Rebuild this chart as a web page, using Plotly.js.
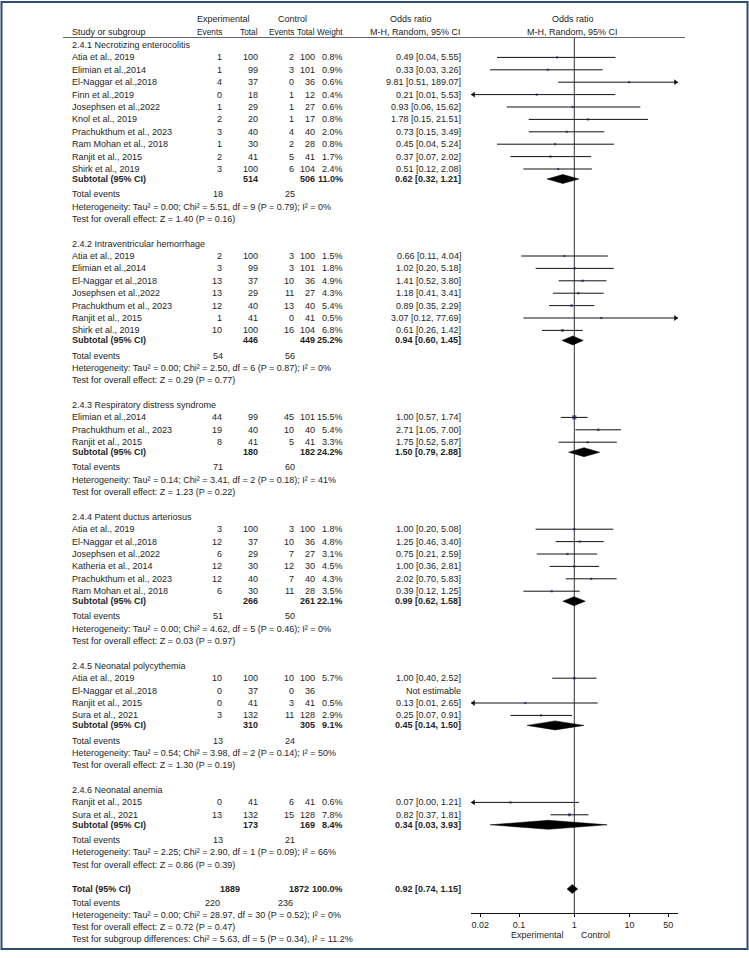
<!DOCTYPE html>
<html><head><meta charset="utf-8">
<script src="https://cdn.plot.ly/plotly-3.0.1.min.js"></script>
<style>html,body{margin:0;padding:0;background:#fff}#chart{width:749px;height:958px}</style>
</head><body><div id="chart"></div>
<script>
// ---------------- DATA ----------------
const subgroupNames = ['2.4.1 Necrotizing enterocolitis','2.4.2 Intraventricular hemorrhage','2.4.3 Respiratory distress syndrome','2.4.4 Patent ductus arteriosus','2.4.5 Neonatal polycythemia','2.4.6 Neonatal anemia'];
const studyGroup = [0,0,0,0,0,0,0,0,0,0, 1,1,1,1,1,1,1, 2,2,2, 3,3,3,3,3,3, 4,4,4,4, 5,5];
const studyNames = [
 'Atia et al., 2019','Elimian et al.,2014','El-Naggar et al.,2018','Finn et al.,2019','Josephsen et al.,2022','Knol et al., 2019','Prachukthum et al., 2023','Ram Mohan et al., 2018','Ranjit et al., 2015','Shirk et al., 2019',
 'Atia et al., 2019','Elimian et al.,2014','El-Naggar et al.,2018','Josephsen et al.,2022','Prachukthum et al., 2023','Ranjit et al., 2015','Shirk et al., 2019',
 'Elimian et al.,2014','Prachukthum et al., 2023','Ranjit et al., 2015',
 'Atia et al., 2019','El-Naggar et al.,2018','Josephsen et al.,2022','Katheria et al., 2014','Prachukthum et al., 2023','Ram Mohan et al., 2018',
 'Atia et al., 2019','El-Naggar et al.,2018','Ranjit et al., 2015','Sura et al., 2021',
 'Ranjit et al., 2015','Sura et al., 2021'];
const expEvents  = [1,1,4,0,1,2,3,1,2,3, 2,3,13,13,12,1,10, 44,19,8, 3,12,6,12,12,6, 10,0,0,3, 0,13];
const expTotal   = [100,99,37,18,29,20,40,30,41,100, 100,99,37,29,40,41,100, 99,40,41, 100,37,29,30,40,30, 100,37,41,132, 41,132];
const ctrlEvents = [2,3,0,1,1,1,4,2,5,6, 3,3,10,11,13,0,16, 45,10,5, 3,10,7,12,7,11, 10,0,3,11, 6,15];
const ctrlTotal  = [100,101,36,12,27,17,40,28,41,104, 100,101,36,27,40,41,104, 101,40,41, 100,36,27,30,40,28, 100,36,41,128, 41,128];
const studyWeight = [0.8,0.9,0.6,0.4,0.6,0.8,2.0,0.8,1.7,2.4, 1.5,1.8,4.9,4.3,5.4,0.5,6.8, 15.5,5.4,3.3, 1.8,4.8,3.1,4.5,4.3,3.5, 5.7,null,0.5,2.9, 0.6,7.8];
const studyOR   = [0.49,0.33,9.81,0.21,0.93,1.78,0.73,0.45,0.37,0.51, 0.66,1.02,1.41,1.18,0.89,3.07,0.61, 1.00,2.71,1.75, 1.00,1.25,0.75,1.00,2.02,0.39, 1.00,null,0.13,0.25, 0.07,0.82];
const studyLow  = [0.04,0.03,0.51,0.01,0.06,0.15,0.15,0.04,0.07,0.12, 0.11,0.20,0.52,0.41,0.35,0.12,0.26, 0.57,1.05,0.52, 0.20,0.46,0.21,0.36,0.70,0.12, 0.40,null,0.01,0.07, 0.00,0.37];
const studyHigh = [5.55,3.26,189.07,5.53,15.62,21.51,3.49,5.24,2.02,2.08, 4.04,5.18,3.80,3.41,2.29,77.69,1.42, 1.74,7.00,5.87, 5.08,3.40,2.59,2.81,5.83,1.25, 2.52,null,2.65,0.91, 1.21,1.81];

const subExpEvents  = [18,54,71,51,13,13];
const subCtrlEvents = [25,56,60,50,24,21];
const subExpTotal   = [514,446,180,266,310,173];
const subCtrlTotal  = [506,449,182,261,305,169];
const subWeight = [11.0,25.2,24.2,22.1,9.1,8.4];
const subOR   = [0.62,0.94,1.50,0.99,0.45,0.34];
const subLow  = [0.32,0.60,0.79,0.62,0.14,0.03];
const subHigh = [1.21,1.45,2.88,1.58,1.50,3.93];
const subTau2 = [0.00,0.00,0.14,0.00,0.54,2.25];
const subChi2 = [5.51,2.50,3.41,4.62,3.98,2.90];
const subDf   = [9,6,2,5,2,1];
const subHetP = [0.79,0.87,0.18,0.46,0.14,0.09];
const subI2   = [0,0,41,0,50,66];
const subZ    = [1.40,0.29,1.23,0.03,1.30,0.86];
const subZP   = [0.16,0.77,0.22,0.97,0.19,0.39];

const totalValues = [1889,1872,100.0,0.92,0.74,1.15]; // expTotal, ctrlTotal, weight, OR, low, high
const totalEvents = [220,236];
const totalHet = [0.00,28.97,30,0.52,0]; // tau2, chi2, df, P, I2
const totalZ = [0.72,0.47];
const subgroupDiff = [5.63,5,0.34,11.2]; // chi2, df, P, I2
const axisTicks = [0.02,0.1,1,10,50];
const tickLabels = ['0.02','0.1','1','10','50'];

// ---------------- LAYOUT ----------------
const W=749, H=958;
const FONT='"Liberation Sans", Arial, sans-serif';
const TC='#1e1e1e';
const PLOT_L=471, PLOT_R=678, AXIS_Y=913;
const XMIN_LOG=-1.868, XMAX_LOG=1.875;
const PX_PER_DEC=(PLOT_R-PLOT_L)/(XMAX_LOG-XMIN_LOG);
const COL={name:72, eE:222, eT:258, cE:294, cT:315, w:343, or:461};
const ann=[];
function txt(s,px,py,anchor,bold,size){
  ann.push({xref:'paper',yref:'paper',x:px/W,y:1-py/H,xanchor:anchor,yanchor:'middle',
    text:bold?'<b>'+s+'</b>':s,showarrow:false,borderpad:0,borderwidth:0,
    font:{family:FONT,size:size||9,color:TC}});
}
const f2=v=>v.toFixed(2);
const orText=(o,l,h)=>f2(o)+' ['+f2(l)+', '+f2(h)+']';
const hetText=(t,c,d,p,i)=>'Heterogeneity: Tau² = '+f2(t)+'; Chi² = '+f2(c)+', df = '+d+' (P = '+f2(p)+'); I² = '+i+'%';
const zText=(z,p)=>'Test for overall effect: Z = '+f2(z)+' (P = '+f2(p)+')';

// headers
const HS=8.3;
txt('Experimental',223,19,'center');
txt('Control',292,19,'center');
txt('Odds ratio',411,19,'center');
txt('Odds ratio',573,19,'center');
txt('Study or subgroup',COL.name,32,'left');
txt('Events',COL.eE,32,'right',false,HS);
txt('Total',COL.eT,32,'right',false,HS);
txt('Events',COL.cE,32,'right',false,HS);
txt('Total',COL.cT,32,'right',false,HS);
txt('Weight',COL.w,32,'right',false,HS);
txt('M-H, Random, 95% CI',COL.or,32,'right');
txt('M-H, Random, 95% CI',572,32,'center');

const STEP=12.4, SUB_GAP=10, TE_GAP=15.2, LINE=12.4, GROUP_GAP=24.6, DIA_H=4.5;
const lineX=[], lineY=[], sqX=[], sqY=[], sqS=[], arrL=[], arrLy=[], arrR=[], arrRy=[];
const diamonds=[];
const xmin=Math.pow(10,XMIN_LOG), xmax=Math.pow(10,XMAX_LOG);
const arrowInL=Math.pow(10,XMIN_LOG+2.5/PX_PER_DEC), arrowInR=Math.pow(10,XMAX_LOG-2.5/PX_PER_DEC);

let y=45;
let lastTest=0;
for(let g=0; g<subgroupNames.length; g++){
  txt(subgroupNames[g],COL.name,y,'left');
  let sy=y;
  studyNames.forEach((n,i)=>{
    if(studyGroup[i]!==g) return;
    sy+=STEP;
    txt(n,COL.name,sy,'left');
    txt(String(expEvents[i]),COL.eE,sy,'right');
    txt(String(expTotal[i]),COL.eT,sy,'right');
    txt(String(ctrlEvents[i]),COL.cE,sy,'right');
    txt(String(ctrlTotal[i]),COL.cT,sy,'right');
    if(studyOR[i]===null){
      txt('Not estimable',COL.or,sy,'right');
      return;
    }
    txt(studyWeight[i].toFixed(1)+'%',COL.w,sy,'right');
    txt(orText(studyOR[i],studyLow[i],studyHigh[i]),COL.or,sy,'right');
    lineX.push(Math.max(studyLow[i],xmin),Math.min(studyHigh[i],xmax),null);
    lineY.push(sy,sy,null);
    sqX.push(studyOR[i]); sqY.push(sy); sqS.push(Math.max(2.2,1.05*Math.sqrt(studyWeight[i])));
    if(studyLow[i]<xmin){arrL.push(arrowInL); arrLy.push(sy);}
    if(studyHigh[i]>xmax){arrR.push(arrowInR); arrRy.push(sy);}
  });
  const subY=sy+SUB_GAP;
  txt('Subtotal (95% CI)',COL.name,subY,'left',true);
  txt(String(subExpTotal[g]),COL.eT,subY,'right',true);
  txt(String(subCtrlTotal[g]),COL.cT,subY,'right',true);
  txt(subWeight[g].toFixed(1)+'%',COL.w,subY,'right',true);
  txt(orText(subOR[g],subLow[g],subHigh[g]),COL.or,subY,'right',true);
  diamonds.push([subOR[g],subLow[g],subHigh[g],subY]);
  const teY=subY+TE_GAP;
  txt('Total events',COL.name,teY,'left');
  txt(String(subExpEvents[g]),COL.eE+1,teY,'right');
  txt(String(subCtrlEvents[g]),COL.cE+1,teY,'right');
  txt(hetText(subTau2[g],subChi2[g],subDf[g],subHetP[g],subI2[g]),COL.name,teY+LINE,'left');
  txt(zText(subZ[g],subZP[g]),COL.name,teY+2*LINE,'left');
  lastTest=teY+2*LINE;
  y=lastTest+GROUP_GAP;
}
// overall
const totY=lastTest+24.2;
txt('Total (95% CI)',COL.name,totY,'left',true);
txt(String(totalValues[0]),240,totY,'right',true);
txt(String(totalValues[1]),309,totY,'right',true);
txt(totalValues[2].toFixed(1)+'%',COL.w,totY,'right',true);
txt(orText(totalValues[3],totalValues[4],totalValues[5]),COL.or,totY,'right',true);
diamonds.push([totalValues[3],totalValues[4],totalValues[5],totY]);
txt('Total events',COL.name,totY+14,'left');
txt(String(totalEvents[0]),220,totY+14,'right');
txt(String(totalEvents[1]),293,totY+14,'right');
txt(hetText(totalHet[0],totalHet[1],totalHet[2],totalHet[3],totalHet[4]),COL.name,totY+26,'left');
txt(zText(totalZ[0],totalZ[1]),COL.name,totY+38,'left');
txt('Test for subgroup differences: Chi² = '+f2(subgroupDiff[0])+', df = '+subgroupDiff[1]+' (P = '+f2(subgroupDiff[2])+'), I² = '+subgroupDiff[3].toFixed(1)+'%',COL.name,totY+50.3,'left');
txt('Experimental',537,935,'center');
txt('Control',595,935,'center');

// ---------------- TRACES ----------------
const traces=[];
traces.push({x:[1,1],y:[38,AXIS_Y],mode:'lines',line:{color:'#333',width:1},hoverinfo:'skip'});
traces.push({x:lineX,y:lineY,mode:'lines',line:{color:'#111',width:1},connectgaps:false,hoverinfo:'skip'});
traces.push({x:sqX,y:sqY,mode:'markers',marker:{symbol:'square',size:sqS,color:'#1b1b66',line:{width:0}},hoverinfo:'skip'});
traces.push({x:arrL,y:arrLy,mode:'markers',cliponaxis:false,marker:{symbol:'triangle-left',size:5,color:'#111'},hoverinfo:'skip'});
traces.push({x:arrR,y:arrRy,mode:'markers',cliponaxis:false,marker:{symbol:'triangle-right',size:5,color:'#111'},hoverinfo:'skip'});
diamonds.forEach(d=>{
  traces.push({x:[d[1],d[0],d[2],d[0],d[1]],y:[d[3],d[3]-DIA_H,d[3],d[3]+DIA_H,d[3]],mode:'lines',fill:'toself',
    fillcolor:'#000',line:{color:'#000',width:0.5},hoverinfo:'skip'});
});

const layout={
  width:W,height:H,margin:{l:0,r:0,t:0,b:0},paper_bgcolor:'#fff',plot_bgcolor:'rgba(0,0,0,0)',
  showlegend:false,
  xaxis:{type:'log',range:[XMIN_LOG,XMAX_LOG],domain:[PLOT_L/W,PLOT_R/W],showline:true,linecolor:'#111',linewidth:1,
    ticks:'outside',ticklen:3,tickcolor:'#111',tickvals:axisTicks,ticktext:tickLabels,showgrid:false,zeroline:false,
    tickfont:{family:FONT,size:9,color:TC},fixedrange:true},
  yaxis:{range:[AXIS_Y,0],domain:[(H-AXIS_Y)/H,1],visible:false,showgrid:false,zeroline:false,fixedrange:true},
  annotations:ann,
  shapes:[
    {type:'rect',xref:'paper',yref:'paper',x0:1.5/W,x1:747.5/W,y0:1-949/H,y1:1-2/H,line:{color:'#2d4d70',width:2}},
    {type:'line',xref:'paper',yref:'paper',x0:63/W,x1:685/W,y0:1-37.5/H,y1:1-37.5/H,line:{color:'#666',width:1}}
  ]
};
Plotly.newPlot('chart',traces,layout,{staticPlot:true,displayModeBar:false});
</script></body></html>
